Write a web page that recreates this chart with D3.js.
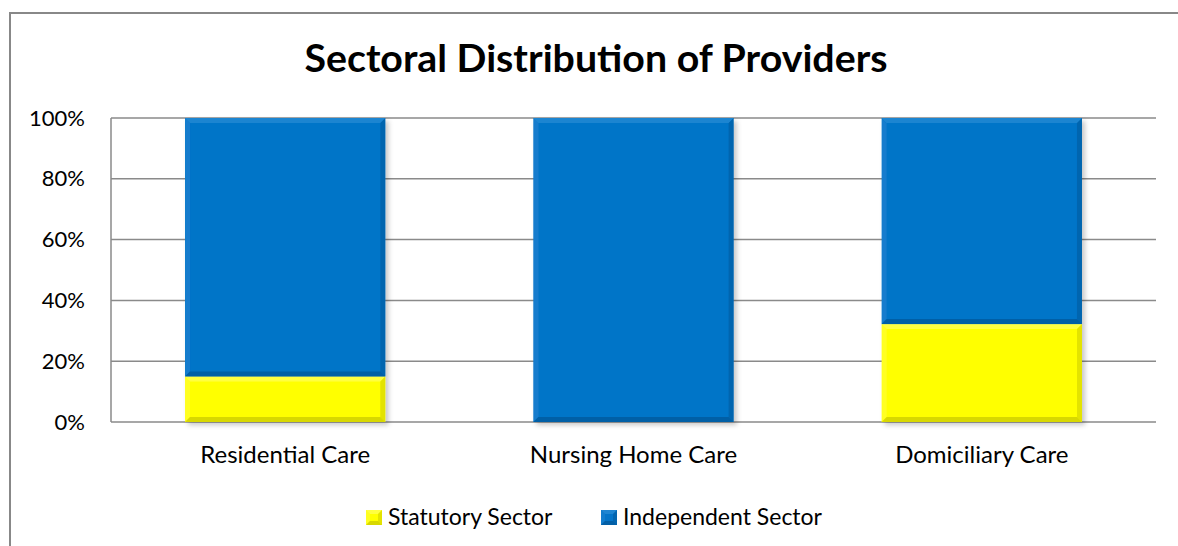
<!DOCTYPE html>
<html><head><meta charset="utf-8">
<script src="https://cdn.jsdelivr.net/npm/d3@7"></script>
<style>body{margin:0;background:#fff;} svg{display:block;}</style>
</head><body>
<script>
const categories = ["Residential Care", "Nursing Home Care", "Domiciliary Care"];
const statutory = [15, 0, 32.2];
const independent = [85, 100, 67.8];
const seriesNames = ["Statutory Sector", "Independent Sector"];
const yTicks = [0, 20, 40, 60, 80, 100];
const title = "Sectoral Distribution of Providers";

const W = 1178, H = 546;
const font = "Lato, 'Open Sans', sans-serif";
const svg = d3.select("body").append("svg").attr("width", W).attr("height", H);
const defs = svg.append("defs");
const f = defs.append("filter").attr("id","sh").attr("x","-10%").attr("y","-10%").attr("width","130%").attr("height","130%");
f.append("feDropShadow").attr("dx",3).attr("dy",3).attr("stdDeviation",2.5).attr("flood-color","#000").attr("flood-opacity",0.22);

// frame
svg.append("path").attr("d","M10,546 L10,13 L1178,13").attr("fill","none").attr("stroke","#888").attr("stroke-width",2);

const m = {l:111, r:1156, t:118, b:422};
const x = d3.scaleBand().domain(categories).range([m.l, m.r]).paddingInner(0.425).paddingOuter(0.2125);
const y = d3.scaleLinear().domain([0,100]).range([m.b, m.t]);

svg.append("text").attr("x", 596).attr("y", 72).attr("text-anchor","middle")
  .attr("font-family", font).attr("font-weight","bold").attr("font-size", 38)
  .attr("textLength", 583).attr("lengthAdjust","spacingAndGlyphs").attr("fill","#000").text(title);

// grid
const g = svg.append("g");
g.selectAll("line.grid").data(yTicks).join("line")
  .attr("x1", m.l).attr("x2", m.r).attr("y1", d=>y(d)).attr("y2", d=>y(d))
  .attr("stroke","#8a8a8a").attr("stroke-width",1.5);
g.append("line").attr("x1",m.l).attr("x2",m.l).attr("y1",m.t).attr("y2",m.b).attr("stroke","#8a8a8a").attr("stroke-width",1.5);

const yAxis = svg.append("g").attr("transform",`translate(${m.l},0)`)
  .call(d3.axisLeft(y).tickValues(yTicks).tickFormat(d=>d+"%").tickSize(0).tickPadding(26));
yAxis.select(".domain").remove();
yAxis.selectAll("text").attr("font-family",font).attr("font-size",22).attr("fill","#000");

const xAxis = svg.append("g").attr("transform",`translate(0,${m.b})`)
  .call(d3.axisBottom(x).tickSize(0).tickPadding(24));
xAxis.select(".domain").remove();
xAxis.selectAll("text").attr("font-family",font).attr("font-size",24).attr("fill","#000");

const colors = [{fill:"#ffff00", dark:"#b8b800", light:"#ffff80"}, {fill:"#0474c8", dark:"#034f8a", light:"#3a95da"}];
const stack = categories.map((c,i)=>[{s:0,y0:0,y1:statutory[i],c},{s:1,y0:statutory[i],y1:statutory[i]+independent[i],c}]);

function bevel(gg, x0, y0, w, h, col, bb){
  if(h<=0) return;
  gg.append("rect").attr("x",x0).attr("y",y0).attr("width",w).attr("height",h).attr("fill",col.fill);
  const b = Math.min(bb||6, h/2);
  gg.append("path").attr("d",`M${x0},${y0}L${x0+w},${y0}L${x0+w-b},${y0+b}L${x0+b},${y0+b}Z`).attr("fill",col.light).attr("opacity",0.5);
  gg.append("path").attr("d",`M${x0},${y0}L${x0+b},${y0+b}L${x0+b},${y0+h-b}L${x0},${y0+h}Z`).attr("fill",col.light).attr("opacity",0.25);
  gg.append("path").attr("d",`M${x0+w},${y0}L${x0+w},${y0+h}L${x0+w-b},${y0+h-b}L${x0+w-b},${y0+b}Z`).attr("fill",col.dark).attr("opacity",0.4);
  gg.append("path").attr("d",`M${x0},${y0+h}L${x0+w},${y0+h}L${x0+w-b},${y0+h-b}L${x0+b},${y0+h-b}Z`).attr("fill",col.dark).attr("opacity",0.55);
}

const bars = svg.append("g");
stack.forEach(segs=>{
  const bg = bars.append("g").attr("filter","url(#sh)");
  segs.forEach(s=>{
    bevel(bg, x(s.c), y(s.y1), x.bandwidth(), y(s.y0)-y(s.y1), colors[s.s], 5);
  });
});

// legend
const leg = svg.append("g");
const items = [{name:seriesNames[0], x:366},{name:seriesNames[1], x:601}];
items.forEach((it,i)=>{
  bevel(leg, it.x, 510, 16, 15, colors[i], 4);
  leg.append("text").attr("x", it.x+22).attr("y", 525).attr("font-family",font).attr("font-size",23).attr("fill","#000").text(it.name);
});
</script>
</body></html>
